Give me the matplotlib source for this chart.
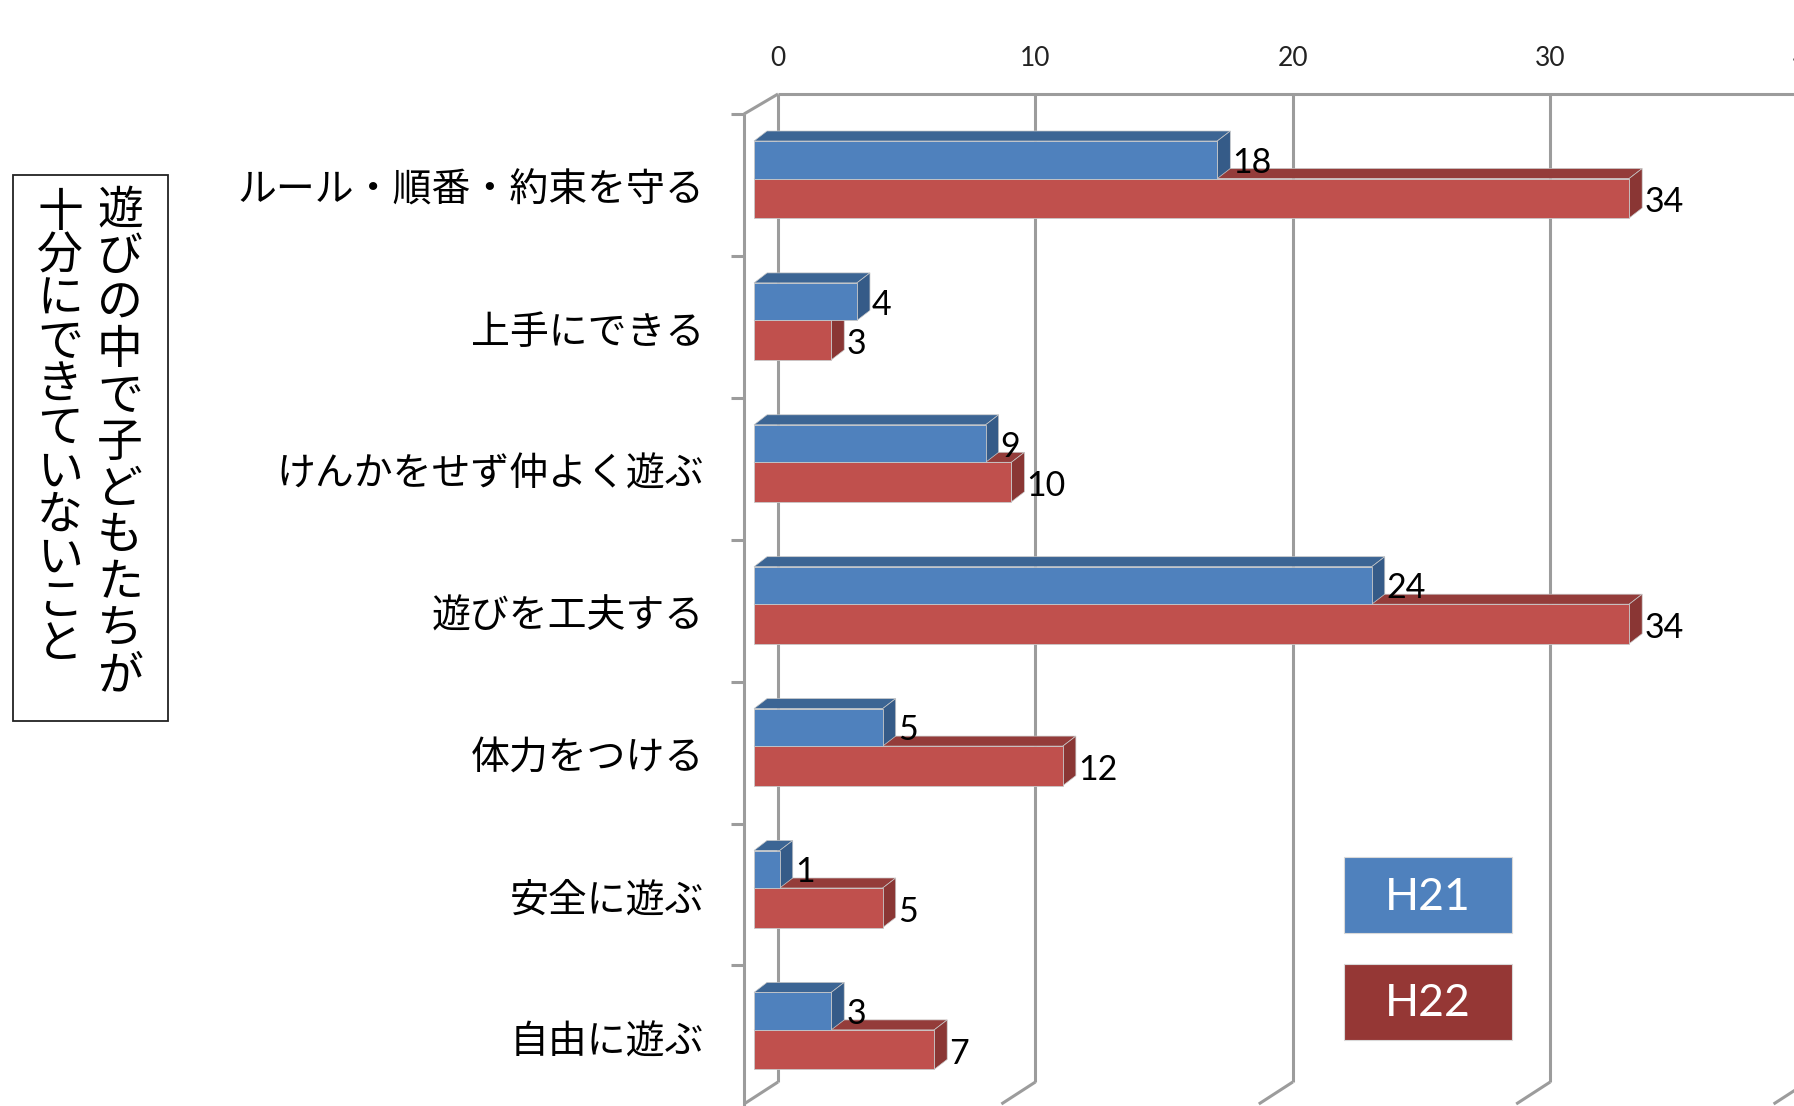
import matplotlib
matplotlib.use('Agg')
import matplotlib.pyplot as plt
from matplotlib.patches import Polygon, Rectangle

# ---------------- data ----------------
categories = ["ルール・順番・約束を守る", "上手にできる", "けんかをせず仲よく遊ぶ",
              "遊びを工夫する", "体力をつける", "安全に遊ぶ", "自由に遊ぶ"]
h21 = [18, 4, 9, 24, 5, 1, 3]
h22 = [34, 3, 10, 34, 12, 5, 7]
series_names = ["H21", "H22"]
xticks = [0, 10, 20, 30, 40]
side_col_right = "遊びの中で子どもたちが"
side_col_left = "十分にできていないこと"

# ---------------- styling ----------------
JP = ['Noto Sans CJK JP', 'DejaVu Sans']
LAT = ['Lato', 'DejaVu Sans']
BLUE_FRONT, BLUE_TOP, BLUE_SIDE = '#4F81BD', '#3C6594', '#355B88'
RED_FRONT, RED_TOP, RED_SIDE = '#C0504D', '#943C3A', '#8A3634'
LEG_BLUE, LEG_RED = '#4F81BD', '#953735'
GRID = '#9c9c9c'

W, H = 1794, 1106
fig = plt.figure(figsize=(W / 100, H / 100), dpi=100)
ax = fig.add_axes([0, 0, 1, 1])
PX_PER_UNIT = 25.74     # pixels per value unit
PX_PER_CAT = 141.9      # pixels per category
X0_PX = 754             # front plane zero
Y0_PX = 178.5           # split line of first category
ax.set_xlim(-X0_PX / PX_PER_UNIT, (W - X0_PX) / PX_PER_UNIT)
ax.set_ylim((H - Y0_PX) / PX_PER_CAT, -Y0_PX / PX_PER_CAT)
ax.axis('off')


def dx(px):
    return px / PX_PER_UNIT


def dy(px):
    return px / PX_PER_CAT


# ---------------- walls / grid ----------------
back_off = dx(24)
y_top_wall = dy(94 - Y0_PX)
y_bot_wall = dy(1082 - Y0_PX)
floor_dx, floor_dy = dx(-34), dy(22)
gkw = dict(color=GRID, lw=2.2, zorder=1, solid_capstyle='butt')
for t in xticks:
    xb = t + back_off
    ax.plot([xb, xb], [y_top_wall, y_bot_wall], **gkw)
    ax.plot([xb, xb + floor_dx], [y_bot_wall, y_bot_wall + floor_dy], **gkw)
    ax.text(xb, dy(59 - Y0_PX), str(t), ha='center', va='center',
            fontsize=19, family=LAT, color='#222222')
# top edge of back wall
ax.plot([back_off, xticks[-1] + back_off + 5], [y_top_wall, y_top_wall], **gkw)
# left wall front edge and top diagonal
x_front_axis = dx(744 - X0_PX)
y_front_top = dy(114 - Y0_PX)
ax.plot([back_off, x_front_axis], [y_top_wall, y_front_top], **gkw)
ax.plot([x_front_axis, x_front_axis], [y_front_top, dy(H + 10 - Y0_PX)], **gkw)
# category ticks
for k in range(len(categories) + 1):
    yk = y_front_top + k
    ax.plot([x_front_axis - dx(13), x_front_axis], [yk, yk], **gkw)

# ---------------- bars ----------------
bh_blue, bh_red = dy(37.5), dy(39.5)
ddx, ddy = dx(13), dy(10)


def draw_bar(v, ytop, ybot, cf, ct, cs, z):
    ax.barh((ytop + ybot) / 2, v, height=ybot - ytop, left=0, color=cf,
            edgecolor='#c8c8c8', linewidth=0.6, zorder=z + 0.2)
    ax.add_patch(Polygon([(0, ytop), (v, ytop), (v + ddx, ytop - ddy), (ddx, ytop - ddy)],
                         closed=True, facecolor=ct, edgecolor='#c8c8c8', linewidth=0.5, zorder=z))
    ax.add_patch(Polygon([(v, ytop), (v, ybot), (v + ddx, ybot - ddy), (v + ddx, ytop - ddy)],
                         closed=True, facecolor=cs, edgecolor='#c8c8c8', linewidth=0.5, zorder=z + 0.1))


for i, (a, b) in enumerate(zip(h21, h22)):
    # red (lower) first, then blue on top
    draw_bar(b, i, i + bh_red, RED_FRONT, RED_TOP, RED_SIDE, 3)
    draw_bar(a, i - bh_blue, i, BLUE_FRONT, BLUE_TOP, BLUE_SIDE, 4)
    ax.text(a + ddx + dx(2), i - bh_blue / 2 + dy(3), str(a), ha='left', va='center',
            fontsize=24.5, family=LAT, color='black', zorder=6)
    ax.text(b + ddx + dx(2), i + bh_red / 2 + dy(4), str(b), ha='left', va='center',
            fontsize=24.5, family=LAT, color='black', zorder=6)
    ax.text(dx(704 - X0_PX), i + dy(191 - Y0_PX), categories[i], ha='right', va='center',
            fontsize=28, family=JP, color='black')

# ---------------- legend boxes ----------------
for name, col, (y1, y2) in zip(series_names, [LEG_BLUE, LEG_RED], [(857, 933), (964, 1040)]):
    fig.patches.append(Rectangle((1344 / W, 1 - y2 / H), (1512 - 1344) / W, (y2 - y1) / H,
                                 transform=fig.transFigure, facecolor=col,
                                 edgecolor='#d9d9d9', linewidth=0.8, zorder=10))
    fig.text((1344 + 1512) / 2 / W, 1 - ((y1 + y2) / 2 + 2) / H, name, ha='center', va='center',
             fontsize=32, family=LAT, color='white', zorder=11)

# ---------------- side title box ----------------
fig.patches.append(Rectangle((12.6 / W, 1 - 721 / H), (168 - 12.6) / W, (721 - 175) / H,
                             transform=fig.transFigure, facecolor='white',
                             edgecolor='#222222', linewidth=1.3, zorder=10))
for ch_i, ch in enumerate(side_col_right):
    fig.text(120 / W, 1 - (210 + 46.6 * ch_i) / H, ch, ha='center', va='center',
             fontsize=33, family=JP, color='black', zorder=11)
for ch_i, ch in enumerate(side_col_left):
    fig.text(60 / W, 1 - (213 + 43.2 * ch_i) / H, ch, ha='center', va='center',
             fontsize=33, family=JP, color='black', zorder=11)

fig.savefig('out.png', dpi=100, facecolor='white')
